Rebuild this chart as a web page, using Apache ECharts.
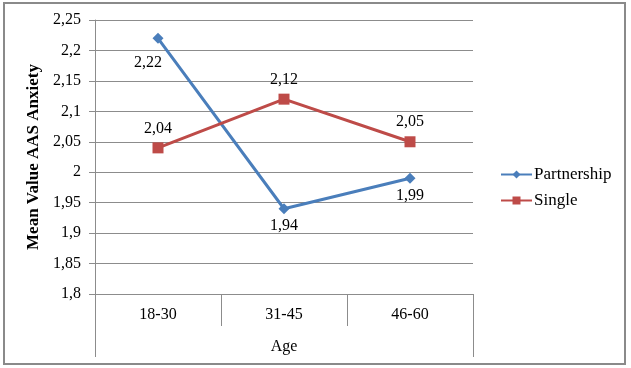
<!DOCTYPE html>
<html>
<head>
<meta charset="utf-8">
<script src="https://cdn.jsdelivr.net/npm/echarts@6/dist/echarts.min.js"></script>
<style>
  html, body { margin: 0; padding: 0; background: #fff; }
  #chart { width: 631px; height: 368px; }
</style>
</head>
<body>
<div id="chart"></div>
<script>
// 数据
var ageGroups = ['18-30', '31-45', '46-60'];
var partnershipValues = [2.22, 1.94, 1.99];
var singleValues = [2.04, 2.12, 2.05];
var seriesNames = ['Partnership', 'Single'];

var fontFamily = '"Liberation Serif", "Times New Roman", serif';

function commaNum(v) {
  return String(+Number(v).toFixed(2)).replace('.', ',');
}

window.onload = function() {
  var myChart = echarts.init(document.getElementById('chart'));

  // 网格位置
  var gLeft = 95, gRight = 473, gTop = 20, gBottom = 294;

  var partnerData = partnershipValues.map(function(v, i) {
    var item = { value: v };
    if (i === 0) {
      item.label = { position: 'bottom', offset: [-10, 7] };
    }
    return item;
  });

  var option = {
    animation: false,
    textStyle: { fontFamily: fontFamily },
    grid: {
      left: gLeft,
      right: 631 - gRight,
      top: gTop,
      bottom: 368 - gBottom
    },
    legend: {
      orient: 'vertical',
      left: 495,
      top: 161,
      itemWidth: 31,
      itemHeight: 10,
      itemGap: 9,
      data: seriesNames,
      textStyle: { fontFamily: fontFamily, fontSize: 17, color: '#000', padding: [0, 0, 0, -3] }
    },
    xAxis: {
      type: 'category',
      data: ageGroups,
      boundaryGap: true,
      name: 'Age',
      nameLocation: 'middle',
      nameGap: 45,
      nameTextStyle: { fontFamily: fontFamily, fontSize: 16, color: '#000' },
      axisLine: { lineStyle: { color: '#8c8c8c', width: 1 } },
      axisTick: { show: true, length: 32, interval: 0, lineStyle: { color: '#8c8c8c' } },
      axisLabel: { fontFamily: fontFamily, fontSize: 16, color: '#000', margin: 13 }
    },
    yAxis: {
      type: 'value',
      min: 1.8,
      max: 2.25,
      interval: 0.05,
      name: 'Mean Value AAS Anxiety',
      nameLocation: 'middle',
      nameGap: 51,
      nameTextStyle: { fontFamily: fontFamily, fontSize: 17, fontWeight: 'bold', color: '#000' },
      axisLine: { show: true, lineStyle: { color: '#8c8c8c', width: 1 } },
      axisTick: { show: true, length: 6, lineStyle: { color: '#8c8c8c' } },
      axisLabel: {
        fontFamily: fontFamily, fontSize: 16, color: '#000', margin: 14,
        formatter: function(v) { return commaNum(v); }
      },
      splitLine: { lineStyle: { color: '#8c8c8c', width: 1 } }
    },
    graphic: [
      // 外边框
      {
        type: 'rect',
        shape: { x: 4, y: 3, width: 621, height: 361 },
        style: { fill: 'none', stroke: '#8a8a8a', lineWidth: 2 },
        silent: true
      },
      // 左右两侧延长的分隔线
      {
        type: 'line',
        shape: { x1: gLeft + 0.5, y1: gBottom, x2: gLeft + 0.5, y2: 357 },
        style: { stroke: '#8c8c8c', lineWidth: 1 },
        silent: true
      },
      {
        type: 'line',
        shape: { x1: gRight + 0.5, y1: gBottom, x2: gRight + 0.5, y2: 357 },
        style: { stroke: '#8c8c8c', lineWidth: 1 },
        silent: true
      }
    ],
    series: [{
      type: 'line',
      name: seriesNames[0],
      data: partnerData,
      symbol: 'diamond',
      symbolSize: 11,
      itemStyle: { color: '#4a7ebb' },
      lineStyle: { color: '#4a7ebb', width: 3 },
      label: {
        show: true,
        position: 'bottom',
        distance: 4,
        fontFamily: fontFamily,
        fontSize: 16,
        color: '#000',
        formatter: function(p) { return commaNum(p.value); }
      }
    }, {
      type: 'line',
      name: seriesNames[1],
      data: singleValues,
      symbol: 'rect',
      symbolSize: 11,
      itemStyle: { color: '#be4b48' },
      lineStyle: { color: '#be4b48', width: 3 },
      label: {
        show: true,
        position: 'top',
        distance: 6,
        fontFamily: fontFamily,
        fontSize: 16,
        color: '#000',
        formatter: function(p) { return commaNum(p.value); }
      }
    }]
  };

  myChart.setOption(option);
};
</script>
</body>
</html>
